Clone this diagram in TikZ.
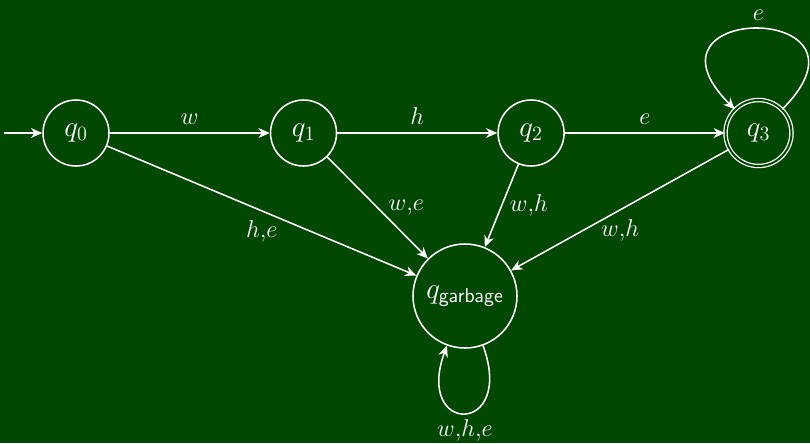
\documentclass[tikz,border=0pt]{standalone}
\definecolor{darkgreen}{RGB}{0,71,0}
\colorlet{bg}{darkgreen}
\usetikzlibrary{positioning, arrows.meta}

\begin{document}
\begin{tikzpicture}[
    state/.style={draw=white, circle, minimum size=1.65cm, inner sep=0pt,
      line width=1.1pt, text=white, font=\huge},
    accepting/.style={double=bg, double distance=1.4pt, line width=0.9pt},
    trans/.style={draw=white, line width=1.1pt,
      -{Stealth[length=8pt, width=7pt, inset=2.5pt]}},
    lbl/.style={text=white, font=\LARGE},
    node distance=4cm,
  ]
    \fill[bg] (0,0) rectangle (20.25,-11.075);
    \useasboundingbox (0,0) rectangle (20.25,-11.075);
    \node[state] (q0) at (1.9, -3.325) {$q_0$};
    \node[state, right=of q0] (q1) {$q_1$};
    \node[state, right=of q1] (q2) {$q_2$};
    \node[state, accepting, right=of q2] (q3) {$q_3$};
    \node[state, minimum size=2.6cm] (qg) at (11.625, -7.4) {$q_{\mathsf{garbage}}$};
    \coordinate[left=0.95cm of q0] (start);

    \draw[trans] (start) -- (q0);
    \draw[trans] (q0) -- node[lbl, above=2pt] {$w$} (q1);
    \draw[trans] (q1) -- node[lbl, above=2pt] {$h$} (q2);
    \draw[trans] (q2) -- node[lbl, above=2pt] {$e$} (q3);
    \draw[trans] (q0) -- node[lbl, below=3pt] {$h{,}e$} (qg);
    \draw[trans] (q1) -- node[lbl, right=4pt] {$w{,}e$} (qg);
    \draw[trans] (q2) -- node[lbl, right=2pt] {$w{,}h$} (qg);
    \draw[trans] (q3) -- node[lbl, below=3pt] {$w{,}h$} (qg);
    \path (q3) edge[trans, out=45, in=135, distance=3.8cm] node[lbl, above=2pt] {$e$} (q3);
    \path (qg) edge[trans, out=-70, in=-110, distance=2.4cm] node[lbl, below=1pt] {$w{,}h{,}e$} (qg);
  \end{tikzpicture}
\end{document}
